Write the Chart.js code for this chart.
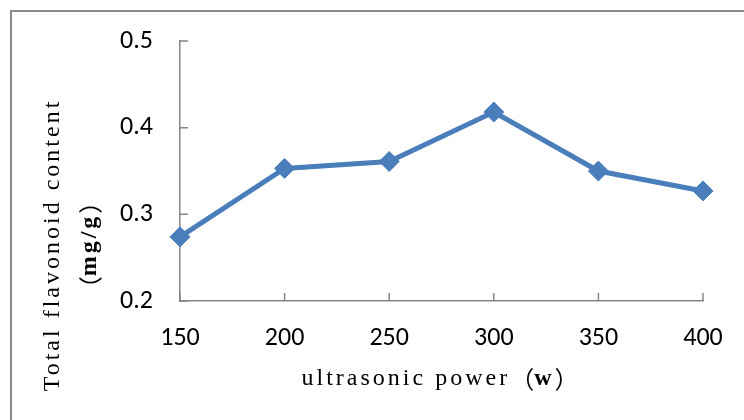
<!DOCTYPE html>
<html>
<head>
<meta charset="utf-8">
<script src="https://cdn.jsdelivr.net/npm/chart.js@4/dist/chart.umd.min.js"></script>
<style>
  html, body { margin: 0; padding: 0; background: #fff; overflow: hidden; }
  #wrap { position: relative; width: 744px; height: 420px; }
  #frame { position: absolute; left: 10px; top: 10px; width: 800px; height: 500px;
           border: 2px solid #8a8a8a; box-sizing: border-box; pointer-events: none; }
  canvas { position: absolute; left: 0; top: 0; }
</style>
</head>
<body>
<div id="wrap">
  <canvas id="chart" width="744" height="420"></canvas>
  <div id="frame"></div>
</div>
<script>
// datos
const powers = ['150', '200', '250', '300', '350', '400'];
const flavonoid = [0.274, 0.353, 0.361, 0.418, 0.350, 0.327];
const yTicks = [0.2, 0.3, 0.4, 0.5];

const axisGray = '#868686';
const lineBlue = '#4A7EBB';
const titleFont = '"Liberation Serif", serif';
const cjkFont = '"Noto Sans CJK SC"';
const tickFont = 'Carlito, Calibri, "Noto Sans", sans-serif';

// dibuja un texto con partes en negrita, centrado en (cx, cy), con rotación
function drawMixed(ctx, parts, cx, cy, angle, size) {
    ctx.save();
    ctx.translate(cx, cy);
    ctx.rotate(angle);
    ctx.textBaseline = 'middle';
    ctx.textAlign = 'left';
    ctx.fillStyle = '#000';
    const setFont = p => {
        ctx.font = (p.bold ? 'bold ' : '') + size + 'px ' + (p.cjk ? cjkFont : titleFont);
        ctx.letterSpacing = p.cjk ? '0px' : '3px';
    };
    let total = 0;
    parts.forEach(p => {
        setFont(p);
        p.w = ctx.measureText(p.text).width;
        total += p.w;
    });
    let x = -total / 2;
    parts.forEach(p => {
        setFont(p);
        ctx.fillText(p.text, x, 0);
        x += p.w;
    });
    ctx.restore();
}

// marcas de graduación hacia dentro y títulos de ejes
const extrasPlugin = {
    id: 'extras',
    afterDraw(chart) {
        const ctx = chart.ctx;
        const area = chart.chartArea;
        const xs = chart.scales.x;
        const ys = chart.scales.y;
        ctx.save();
        ctx.strokeStyle = axisGray;
        ctx.lineWidth = 1.5;
        ctx.beginPath();
        yTicks.forEach(v => {
            const y = ys.getPixelForValue(v);
            ctx.moveTo(area.left, y);
            ctx.lineTo(area.left + 8, y);
        });
        powers.forEach((p, i) => {
            const x = xs.getPixelForValue(i);
            ctx.moveTo(x, area.bottom);
            ctx.lineTo(x, area.bottom - 8);
        });
        ctx.stroke();
        ctx.restore();

        drawMixed(ctx, [{ text: 'ultrasonic power' }, { text: '（', cjk: true }, { text: 'w', bold: true },
            { text: '）', cjk: true }], 440, 379, 0, 24);
        drawMixed(ctx, [{ text: 'Total flavonoid content' }], 53, 245, -Math.PI / 2, 24);
        drawMixed(ctx, [{ text: '（', cjk: true }, { text: 'mg/g', bold: true }, { text: '）', cjk: true }],
            90, 245, -Math.PI / 2, 24);
    }
};

new Chart(document.getElementById('chart'), {
    type: 'line',
    data: {
        labels: powers,
        datasets: [{
            data: flavonoid,
            borderColor: lineBlue,
            backgroundColor: lineBlue,
            borderWidth: 5,
            pointStyle: 'rectRot',
            pointRadius: 10,
            pointBorderWidth: 1,
            pointBackgroundColor: lineBlue,
            pointBorderColor: lineBlue,
            tension: 0
        }]
    },
    options: {
        responsive: false,
        animation: false,
        layout: { padding: { top: 41, right: 41, left: 0, bottom: 0 } },
        plugins: { legend: { display: false }, tooltip: { enabled: false } },
        scales: {
            x: {
                offset: false,
                grid: { display: false },
                border: { display: true, color: axisGray, width: 1.5 },
                ticks: { color: '#000', padding: 14, maxRotation: 0,
                         font: { family: tickFont, size: 26 } },
                afterFit: s => { s.height = 119; }
            },
            y: {
                min: 0.2,
                max: 0.5,
                grid: { display: false },
                border: { display: true, color: axisGray, width: 1.5 },
                afterBuildTicks: s => { s.ticks = yTicks.map(v => ({ value: v })); },
                ticks: { color: '#000', padding: 19,
                         font: { family: tickFont, size: 26 },
                         callback: v => v.toFixed(1) },
                afterFit: s => { s.width = 180; }
            }
        }
    },
    plugins: [extrasPlugin]
});
</script>
</body>
</html>
